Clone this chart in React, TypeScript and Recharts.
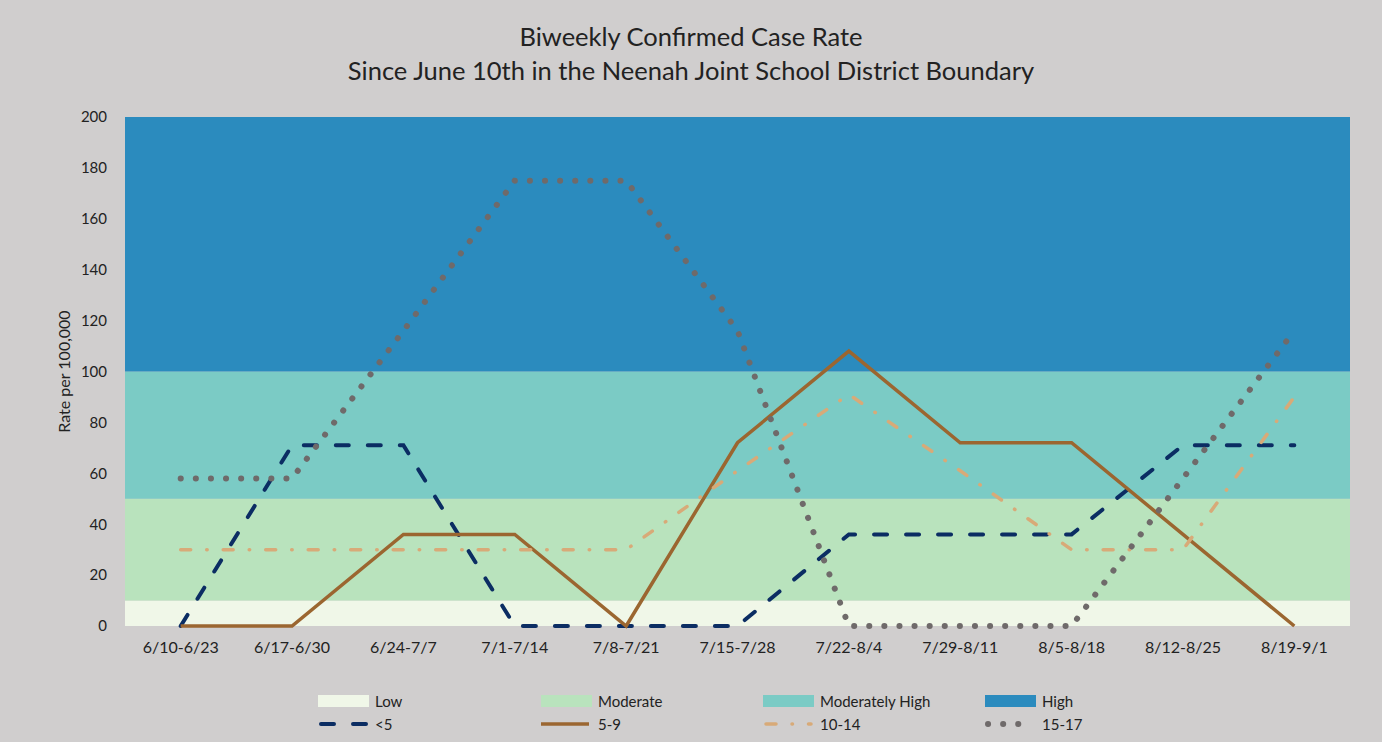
import { LineChart, Line, XAxis, YAxis, ReferenceArea, Label } from 'recharts';

const periods = ['6/10-6/23', '6/17-6/30', '6/24-7/7', '7/1-7/14', '7/8-7/21', '7/15-7/28', '7/22-8/4', '7/29-8/11', '8/5-8/18', '8/12-8/25', '8/19-9/1'];
const under5 = [0, 71, 71, 0, 0, 0, 36, 36, 36, 71, 71];
const age5to9 = [0, 0, 36, 36, 0, 72, 108, 72, 72, 36, 0];
const age10to14 = [30, 30, 30, 30, 30, 61, 91, 61, 30, 30, 90];
const age15to17 = [58, 58, 116, 175, 175, 116, 0, 0, 0, 58, 116];

const yTicks = [0, 20, 40, 60, 80, 100, 120, 140, 160, 180, 200];

// risk bands: [from, to, name, colour]
const bands: [number, number, string, string][] = [
  [0, 10, 'Low', '#f0f7e8'],
  [10, 50, 'Moderate', '#b9e3bd'],
  [50, 100, 'Moderately High', '#7bcbc5'],
  [100, 200, 'High', '#2b8bbe'],
];

const series = [
  { key: 'u5', name: '<5', color: '#0b2d63', width: 4, dash: '13 19', cap: 'round' as const },
  { key: 'a59', name: '5-9', color: '#9b6630', width: 3.5, dash: undefined, cap: 'butt' as const },
  { key: 'a1014', name: '10-14', color: '#d8aa78', width: 3.5, dash: '10 16 0.5 16', cap: 'round' as const },
  { key: 'a1517', name: '15-17', color: '#6f6a6a', width: 6, dash: '0.1 15', cap: 'round' as const },
];

const data = periods.map((p, i) => ({
  period: p,
  u5: under5[i],
  a59: age5to9[i],
  a1014: age10to14[i],
  a1517: age15to17[i],
}));

const font = 'Lato, "Open Sans", sans-serif';
const legendCols = [318, 541, 763, 985];

export default function App() {
  return (
    <div style={{ position: 'relative', width: 1382, height: 742, background: '#d0cece', fontFamily: font }}>
      <style>{'body{margin:0}'}</style>
      <div style={{ position: 'absolute', top: 19, left: 0, width: 1382, textAlign: 'center', fontSize: 25.5, lineHeight: '34px', color: '#222' }}>
        Biweekly Confirmed Case Rate
        <br />
        Since June 10th in the Neenah Joint School District Boundary
      </div>
      <LineChart width={1382} height={742} data={data} margin={{ top: 117, right: 32, bottom: 86, left: 0 }}>
        {bands.map(([a, b, n, c]) => (
          <ReferenceArea key={n} y1={a} y2={b} fill={c} fillOpacity={1} stroke="none" />
        ))}
        <XAxis
          dataKey="period"
          scale="band"
          height={30}
          axisLine={false}
          tickLine={false}
          tickSize={0}
          tickMargin={16}
          interval={0}
          tick={{ fill: '#222', fontSize: 16, fontFamily: font }}
        />
        <YAxis
          width={125}
          domain={[0, 200]}
          ticks={yTicks}
          axisLine={false}
          tickLine={false}
          tickSize={0}
          tickMargin={18}
          tick={{ fill: '#222', fontSize: 15, fontFamily: font }}
        >
          <Label
            value="Rate per 100,000"
            angle={-90}
            position="insideLeft"
            offset={64}
            fontSize={16}
            fill="#222"
            fontFamily={font}
            style={{ textAnchor: 'middle', fontSize: 16 }}
          />
        </YAxis>
        {series.map((s) => (
          <Line
            key={s.key}
            dataKey={s.key}
            name={s.name}
            type="linear"
            stroke={s.color}
            strokeWidth={s.width}
            strokeDasharray={s.dash}
            strokeLinecap={s.cap}
            dot={false}
            activeDot={false}
            isAnimationActive={false}
          />
        ))}
      </LineChart>
      {bands.map(([, , n, c], i) => (
        <div key={n} style={{ position: 'absolute', left: legendCols[i], top: 692, display: 'flex', alignItems: 'center', fontSize: 15, color: '#222' }}>
          <span style={{ display: 'inline-block', width: 51, height: 12, background: c, marginRight: 6 }} />
          {n}
        </div>
      ))}
      {series.map((s, i) => (
        <div key={s.key} style={{ position: 'absolute', left: legendCols[i], top: 715, display: 'flex', alignItems: 'center', fontSize: 15, color: '#222' }}>
          <svg width={51} height={12} style={{ marginRight: 6 }}>
            <line x1={s.cap === 'round' ? 3 : 0} y1={6} x2={48} y2={6} stroke={s.color} strokeWidth={s.width} strokeDasharray={s.dash} strokeLinecap={s.cap} />
          </svg>
          {s.name}
        </div>
      ))}
    </div>
  );
}
